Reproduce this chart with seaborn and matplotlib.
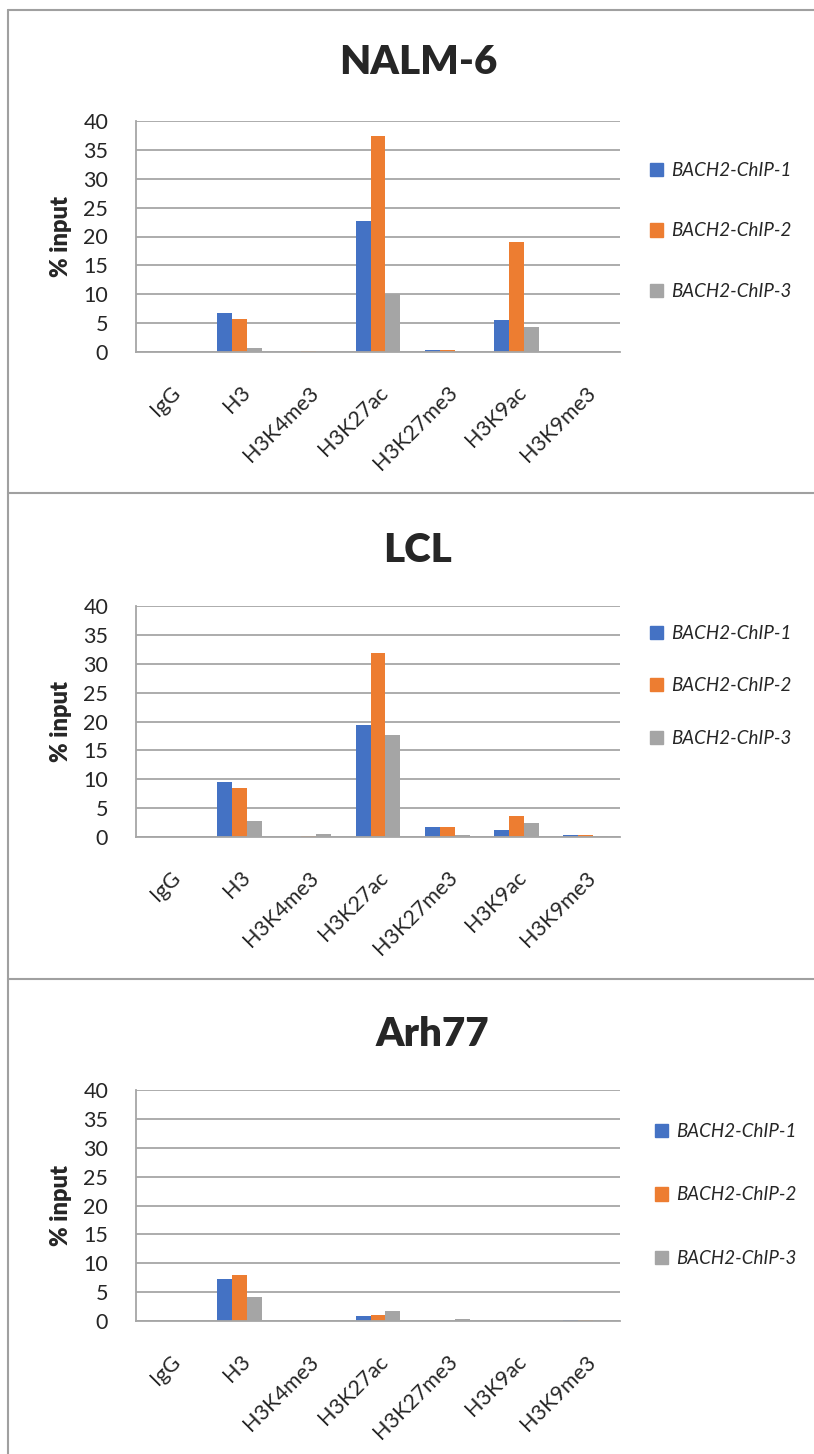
import pandas as pd
import numpy as np
import matplotlib
matplotlib.use('Agg')
import matplotlib.pyplot as plt
from matplotlib.patches import Patch
from matplotlib.lines import Line2D
import seaborn as sns

# data
marks = ['IgG', 'H3', 'H3K4me3', 'H3K27ac', 'H3K27me3', 'H3K9ac', 'H3K9me3']
series = ['BACH2-ChIP-1', 'BACH2-ChIP-2', 'BACH2-ChIP-3']
colors = ['#4472C4', '#ED7D31', '#A5A5A5']

nalm6_chip1 = [0.05, 6.7, 0.05, 22.6, 0.35, 5.6, 0.05]
nalm6_chip2 = [0.05, 5.8, 0.1, 37.4, 0.4, 19.0, 0.05]
nalm6_chip3 = [0.05, 0.7, 0.1, 10.1, 0.05, 4.3, 0.05]

lcl_chip1 = [0.05, 9.6, 0.05, 19.4, 1.8, 1.25, 0.3]
lcl_chip2 = [0.05, 8.5, 0.2, 31.9, 1.75, 3.55, 0.3]
lcl_chip3 = [0.05, 2.8, 0.5, 17.7, 0.35, 2.45, 0.1]

arh77_chip1 = [0.05, 7.25, 0.05, 0.9, 0.05, 0.05, 0.15]
arh77_chip2 = [0.05, 8.0, 0.05, 1.1, 0.05, 0.05, 0.25]
arh77_chip3 = [0.05, 4.2, 0.05, 1.65, 0.4, 0.25, 0.1]

panels = [
    ('NALM-6', [nalm6_chip1, nalm6_chip2, nalm6_chip3]),
    ('LCL', [lcl_chip1, lcl_chip2, lcl_chip3]),
    ('Arh77', [arh77_chip1, arh77_chip2, arh77_chip3]),
]

sns.set_style('white')
plt.rcParams['font.family'] = ['Lato', 'DejaVu Sans']

W, H = 814, 1454
fig = plt.figure(figsize=(W / 100, H / 100), dpi=100)

grid_col = '#A6A6A6'
# pixel layout: (axes bottom y, axes top y, title y, title x, legend x, legend y, legend spacing)
layout = [
    (352, 121, 62, 418, 650, 231, 2.3),
    (837, 606, 550, 418, 650, 686, 1.9),
    (1321, 1090, 1034, 432, 655, 1195, 2.5),
]

for (name, vals), (yb, yt, ty, tx, lx, ly, lsp) in zip(panels, layout):
    rows = []
    for s, v in zip(series, vals):
        for m, val in zip(marks, v):
            rows.append({'mark': m, 'series': s, 'value': val})
    df = pd.DataFrame(rows)

    ax = fig.add_axes([136 / W, (H - yb) / H, (620 - 136) / W, (yb - yt) / H])
    sns.barplot(data=df, x='mark', y='value', hue='series', palette=colors,
                width=0.65, saturation=1, linewidth=0, legend=False, ax=ax)

    ax.set_xlim(-0.5, 6.5)
    ax.set_ylim(0, 40)
    ax.set_yticks(np.arange(0, 41, 5))
    ax.yaxis.grid(True, color=grid_col, lw=1.3)
    ax.set_axisbelow(True)
    for sp in ['top', 'right']:
        ax.spines[sp].set_visible(False)
    for sp in ['left', 'bottom']:
        ax.spines[sp].set_color(grid_col)
        ax.spines[sp].set_linewidth(1.3)

    ax.tick_params(axis='y', length=9, width=1.3, color=grid_col, labelsize=15.5, pad=11)
    ax.set_xticks(range(len(marks)))
    ax.set_xticklabels(marks, rotation=45, ha='right', rotation_mode='anchor', fontsize=15.5)
    ax.tick_params(axis='x', which='major', length=0, pad=22)
    ax.set_xticks(np.arange(-0.5, 7, 1), minor=True)
    ax.tick_params(axis='x', which='minor', length=8, width=1.3, color=grid_col)

    ax.set_xlabel('')
    ax.set_ylabel('% input', fontsize=17, fontweight='heavy')
    ax.yaxis.set_label_coords((72 - 136) / 484, 0.5)

    fig.text(tx / W, 1 - ty / H, name, fontsize=29, fontweight='heavy',
             ha='center', va='center')

    handles = [Patch(color=c, label=s) for c, s in zip(colors, series)]
    fig.legend(handles=handles, loc='center left',
               bbox_to_anchor=(lx / W, 1 - ly / H), frameon=False,
               prop={'style': 'italic', 'size': 13.5},
               handlelength=0.7, handleheight=0.7, handletextpad=0.45,
               labelspacing=lsp, borderaxespad=0, borderpad=0)

# outer frame and separators of the three chart boxes
frame_col = '#A0A0A0'
fig.add_artist(Line2D([8 / W, 8 / W], [0, 1 - 10 / H], transform=fig.transFigure,
                      color=frame_col, lw=1.5))
for y in [10, 493, 979]:
    fig.add_artist(Line2D([8 / W, 1], [1 - y / H, 1 - y / H], transform=fig.transFigure,
                          color=frame_col, lw=1.5))

plt.savefig('out.png', dpi=100)
